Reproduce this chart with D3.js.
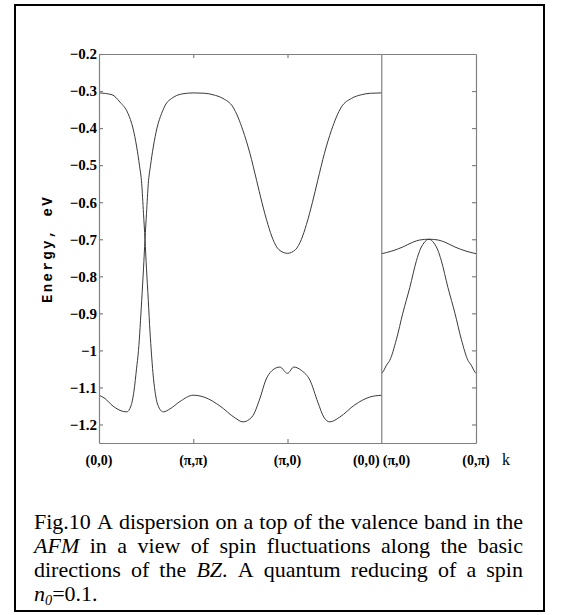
<!DOCTYPE html>
<html><head><meta charset="utf-8">
<script src="https://cdn.jsdelivr.net/npm/d3@7"></script>
<style>body{margin:0;background:#fff}svg{display:block}.serif{font-family:"Liberation Serif","Times New Roman",serif}</style>
</head><body>
<svg id="c" width="565" height="615"></svg>
<script>
// path coordinate s: 0=(0,0) 1=(π,π) 2=(π,0) 3=(0,0)|(π,0) 4=(0,π)
const yTicks = [-1.2,-1.1,-1.0,-0.9,-0.8,-0.7,-0.6,-0.5,-0.4,-0.3,-0.2];
const xTickPos = [0,1,2,3,3,4];
const xTickLabels = ["(0,0)","(π,π)","(π,0)","(0,0)","(π,0)","(0,π)"];
const innerTicks = [1,2];
const yLabel = "Energy, eV";
const xLabel = "k";
const caption = [
  [["Fig.10"],["A"],["dispersion"],["on"],["a"],["top"],["of"],["the"],["valence"],["band"],["in"],["the"]],
  [["AFM","i"],["in"],["a"],["view"],["of"],["spin"],["fluctuations"],["along"],["the"],["basic"]],
  [["directions"],["of"],["the"],["BZ","i","."]  ,["A"],["quantum"],["reducing"],["of"],["a"],["spin"]],
  [["n","i","0","=0.1."]]
];

// band A: starts at top at (0,0), drops to lower band
const bandA_s = [0,0.138,0.223,0.307,0.360,0.400,0.429,0.453,0.472,0.488,0.504,0.523,0.541,0.557,0.572,0.594,0.625,0.682,0.753,0.859,1.0,1.124,1.283,1.442,1.527,1.622,1.707,1.770,1.834,1.919,2.0,2.067,2.152,2.237,2.322,2.385,2.449,2.555,2.714,2.873,3.0];
const bandA_E = [-0.305,-0.31,-0.33,-0.36,-0.40,-0.451,-0.50,-0.55,-0.63,-0.70,-0.78,-0.865,-0.95,-1.01,-1.06,-1.11,-1.148,-1.166,-1.158,-1.138,-1.121,-1.127,-1.15,-1.182,-1.193,-1.18,-1.13,-1.08,-1.055,-1.045,-1.062,-1.045,-1.055,-1.08,-1.14,-1.18,-1.193,-1.18,-1.147,-1.126,-1.121];
// band B: starts low at (0,0), rises to upper band
const bandB_s = [0,0.064,0.138,0.223,0.294,0.339,0.371,0.398,0.419,0.453,0.472,0.488,0.504,0.523,0.547,0.576,0.615,0.665,0.710,0.771,0.877,1.0,1.124,1.209,1.315,1.421,1.527,1.601,1.672,1.728,1.792,1.845,1.908,2.0,2.085,2.148,2.201,2.265,2.321,2.392,2.466,2.572,2.678,2.784,2.879,3.0];
const bandB_E = [-1.121,-1.13,-1.148,-1.162,-1.166,-1.15,-1.11,-1.05,-1.0,-0.865,-0.78,-0.70,-0.63,-0.55,-0.50,-0.451,-0.40,-0.36,-0.335,-0.32,-0.308,-0.305,-0.306,-0.31,-0.32,-0.343,-0.406,-0.468,-0.541,-0.60,-0.66,-0.70,-0.728,-0.738,-0.728,-0.70,-0.66,-0.60,-0.541,-0.468,-0.406,-0.343,-0.32,-0.31,-0.306,-0.305];
// right panel (π,0)->(0,π)
const bandC_s = [3.0,3.106,3.223,3.33,3.404,3.5,3.596,3.67,3.777,3.894,4.0];
const bandC_E = [-0.739,-0.732,-0.721,-0.708,-0.702,-0.700,-0.702,-0.708,-0.721,-0.732,-0.739];
const bandD_s = [3.0,3.02,3.05,3.085,3.156,3.223,3.298,3.369,3.404,3.447,3.5,3.553,3.596,3.631,3.702,3.777,3.844,3.915,3.95,3.98,4.0];
const bandD_E = [-1.062,-1.055,-1.04,-1.027,-0.97,-0.9,-0.83,-0.757,-0.73,-0.71,-0.70,-0.71,-0.73,-0.757,-0.83,-0.9,-0.97,-1.027,-1.04,-1.055,-1.062];

const svg = d3.select("#c");
const X0 = 99, X1 = 476, Y0 = 443, Y1 = 54;
const x = d3.scaleLinear().domain([0,4]).range([X0,X1]);
const y = d3.scaleLinear().domain([-1.25,-0.2]).range([Y0,Y1]);
const axisCol = "#808080";
const SERIF = '"Liberation Serif","Times New Roman",serif';

// frame
svg.append("rect").attr("x",15).attr("y",5).attr("width",529).attr("height",606)
  .attr("fill","none").attr("stroke","#000").attr("stroke-width",2);

// curves
const line = d3.line().x(d=>x(d[0])).y(d=>y(d[1])).curve(d3.curveMonotoneX);
const bands = [[bandA_s,bandA_E],[bandB_s,bandB_E],[bandC_s,bandC_E],[bandD_s,bandD_E]];
bands.forEach(([s,E])=>{
  svg.append("path").datum(s.map((v,i)=>[v,E[i]])).attr("d",line)
    .attr("fill","none").attr("stroke","#3a3a3a").attr("stroke-width",1);
});

function styleAxis(g){
  g.select(".domain").attr("stroke",axisCol).attr("stroke-width",1.2);
  g.selectAll(".tick line").attr("stroke",axisCol).attr("stroke-width",1.2);
}
// left axis
const gl = svg.append("g").attr("transform",`translate(${X0},0)`)
  .call(d3.axisLeft(y).tickValues(yTicks).tickSizeInner(-4).tickSizeOuter(0).tickPadding(2).tickFormat(d3.format("")));
styleAxis(gl);
gl.selectAll(".tick text").style("font-family",SERIF).style("font-weight","bold").style("font-size","15px").attr("fill","#000");
// right axis
const gr = svg.append("g").attr("transform",`translate(${X1},0)`)
  .call(d3.axisRight(y).tickValues(yTicks.slice(0,-1)).tickSizeInner(-4).tickSizeOuter(0).tickFormat(""));
styleAxis(gr);
// top axis
const gt = svg.append("g").attr("transform",`translate(0,${Y1})`)
  .call(d3.axisTop(x).tickValues(innerTicks).tickSizeInner(-4).tickSizeOuter(0).tickFormat(""));
styleAxis(gt);
// bottom axis
const gb = svg.append("g").attr("transform",`translate(0,${Y0})`)
  .call(d3.axisBottom(x).tickValues(innerTicks).tickSizeInner(-4).tickSizeOuter(0).tickFormat(""));
styleAxis(gb);
// divider
svg.append("line").attr("x1",x(3)).attr("x2",x(3)).attr("y1",Y0).attr("y2",Y1)
  .attr("stroke",axisCol).attr("stroke-width",1.2);

// bottom labels
xTickPos.forEach((p,i)=>{
  let anchor="middle", dx=0;
  if(i===3){anchor="end";dx=-2;}
  if(i===4){anchor="start";dx=1;}
  svg.append("text").attr("x",x(p)+dx).attr("y",Y0+22).attr("text-anchor",anchor)
    .style("font-family",SERIF).style("font-weight","bold").style("font-size","14px")
    .text(xTickLabels[i]);
});
svg.append("text").attr("x",506).attr("y",Y0+22).attr("text-anchor","middle")
  .style("font-family",SERIF).style("font-size","16px").text(xLabel);

// y label
svg.append("text").attr("transform","translate(52,249) rotate(-90)").attr("text-anchor","middle")
  .style("font-family","Liberation Mono").style("font-weight","bold").style("font-size","14px")
  .attr("letter-spacing",2.4).text(yLabel);

// caption
const capL = 34, capR = 523, capFS = 22;
const baselines = [529,553,577,601];
caption.forEach((words,li)=>{
  const nodes = words.map(w=>{
    const t = svg.append("text").attr("y",baselines[li]).style("font-family",SERIF).style("font-size",capFS+"px");
    if(w.length===1){ t.text(w[0]); }
    else if(li===3){
      t.append("tspan").style("font-style","italic").text(w[0]);
      t.append("tspan").style("font-style","italic").style("font-size",(capFS*0.65)+"px").attr("dy",4).text(w[2]);
      t.append("tspan").attr("dy",-4).text(w[3]);
    } else {
      t.append("tspan").style("font-style","italic").text(w[0]);
      if(w[2]) t.append("tspan").text(w[2]);
    }
    return t;
  });
  const widths = nodes.map(n=>n.node().getComputedTextLength());
  const total = d3.sum(widths);
  const gap = words.length>1 && li<3 ? (capR-capL-total)/(words.length-1) : 0;
  let cx = capL;
  nodes.forEach((n,i)=>{ n.attr("x",cx); cx += widths[i]+gap; });
});
</script>
</body></html>
